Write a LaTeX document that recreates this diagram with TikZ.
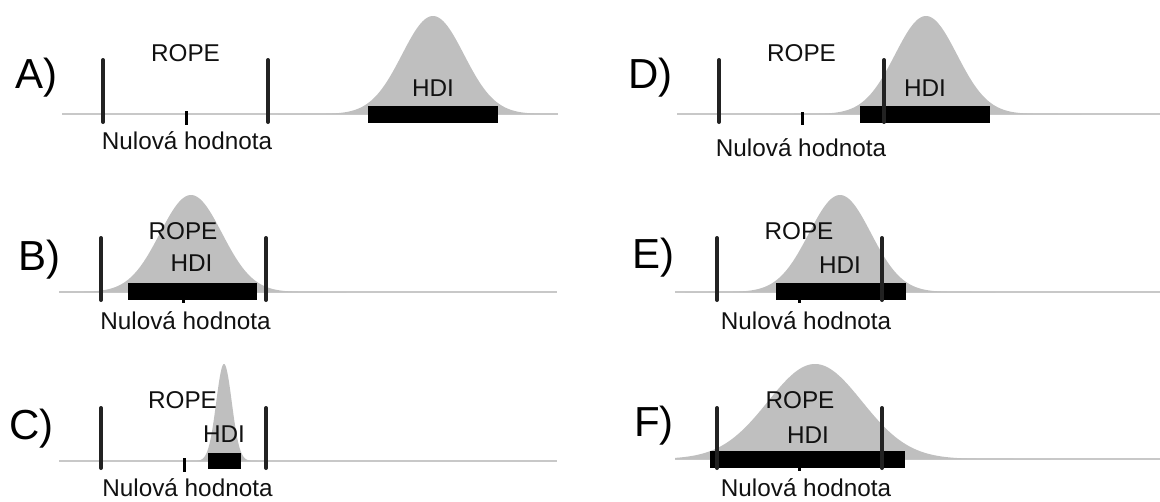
\documentclass[tikz,border=0pt]{standalone}
\usepackage{fontspec}
\setmainfont{Liberation Sans}
\definecolor{distgray}{HTML}{BFBFBF}
\definecolor{linegray}{HTML}{C8C8C8}
\definecolor{ropegray}{HTML}{222222}
\definecolor{txt}{HTML}{111111}
\newcommand\distcurve[6]{% center, sigma, baseline, xmin, xmax, height
  \fill[distfill] (#4,#3) -- plot[domain=#4:#5, samples=150] (\x,{#3-#6*exp(-0.5*((\x-#1)/#2)*((\x-#1)/#2))}) -- (#5,#3) -- cycle;}
\tikzset{
  distfill/.style={fill=distgray},
  axisline/.style={draw=linegray, line width=2pt},
  ropebar/.style={draw=ropegray, line width=4pt, line cap=round},
  nulltick/.style={draw=black, line width=3pt},
  hdibar/.style={fill=black},
  lbl/.style={anchor=base, inner sep=0pt, text=txt, font=\fontsize{24.3}{28}\selectfont},
  panel/.style={anchor=base west, inner sep=0pt, text=black, font=\fontsize{42}{48}\selectfont},
}
\begin{document}
\begin{tikzpicture}[x=1pt,y=-1pt]
\useasboundingbox (0,0) rectangle (1160,501);
% ---------------- A
\draw[axisline] (62,114) -- (558,114);
\distcurve{433}{31}{114}{278}{558}{98}
\fill[hdibar] (368,106) rectangle (498,123);
\draw[nulltick] (186,111) -- (186,125);
\draw[ropebar] (103,60) -- (103,122);
\draw[ropebar] (268,60) -- (268,122);
\node[panel] (lA) at (15,88) {A)};
\node[lbl] (ropeA) at (185.5,61) {ROPE};
\node[lbl] (hdiA) at (433,96) {HDI};
\node[lbl] (nulA) at (187,149) {Nulová hodnota};
% ---------------- B
\draw[axisline] (59,292) -- (557,292);
\distcurve{191}{31}{292}{59}{346}{97}
\draw[nulltick] (183,285) -- (183,303);
\fill[hdibar] (128,283) rectangle (257,300);
\draw[ropebar] (101,238) -- (101,300);
\draw[ropebar] (266,238) -- (266,300);
\node[panel] (lB) at (18.5,270) {B)};
\node[lbl] (ropeB) at (183,239) {ROPE};
\node[lbl] (hdiB) at (191.5,271) {HDI};
\node[lbl] (nulB) at (185.5,329) {Nulová hodnota};
% ---------------- C
\draw[axisline] (59,461) -- (557,461);
\distcurve{224}{7.8}{461}{185}{263}{97}
\fill[hdibar] (208,453) rectangle (241,469);
\draw[nulltick] (184,458) -- (184,472);
\draw[ropebar] (101,408) -- (101,468);
\draw[ropebar] (266,408) -- (266,468);
\node[panel] (lC) at (9,439) {C)};
\node[lbl] (ropeC) at (182.5,408) {ROPE};
\node[lbl] (hdiC) at (224,442) {HDI};
\node[lbl] (nulC) at (187.5,496) {Nulová hodnota};
% ---------------- D
\draw[axisline] (677,114) -- (1160,114);
\distcurve{926}{31}{114}{771}{1081}{98}
\fill[hdibar] (860,106) rectangle (990,123);
\draw[nulltick] (802,112) -- (802,125);
\draw[ropebar] (719,60) -- (719,122);
\draw[ropebar] (884,60) -- (884,122);
\node[panel] (lD) at (628,88) {D)};
\node[lbl] (ropeD) at (801.5,61) {ROPE};
\node[lbl] (hdiD) at (925,96) {HDI};
\node[lbl] (nulD) at (801,156) {Nulová hodnota};
% ---------------- E
\draw[axisline] (675,292) -- (1160,292);
\distcurve{840}{31}{292}{685}{995}{97}
\draw[nulltick] (799,285) -- (799,303);
\fill[hdibar] (776,283) rectangle (906,300);
\draw[ropebar] (717,238) -- (717,300);
\draw[ropebar] (882,238) -- (882,300);
\node[panel] (lE) at (632,268) {E)};
\node[lbl] (ropeE) at (799,239) {ROPE};
\node[lbl] (hdiE) at (840,273) {HDI};
\node[lbl] (nulE) at (806,329) {Nulová hodnota};
% ---------------- F
\draw[axisline] (675,459) -- (1160,459);
\distcurve{815}{47}{459}{675}{1050}{95}
\draw[nulltick] (799,455) -- (799,471);
\fill[hdibar] (710,451) rectangle (905,468);
\draw[ropebar] (717,408) -- (717,468);
\draw[ropebar] (882,408) -- (882,468);
\node[panel] (lF) at (634,436) {F)};
\node[lbl] (ropeF) at (800,408) {ROPE};
\node[lbl] (hdiF) at (808,443) {HDI};
\node[lbl] (nulF) at (806,496) {Nulová hodnota};
\end{tikzpicture}
\end{document}
